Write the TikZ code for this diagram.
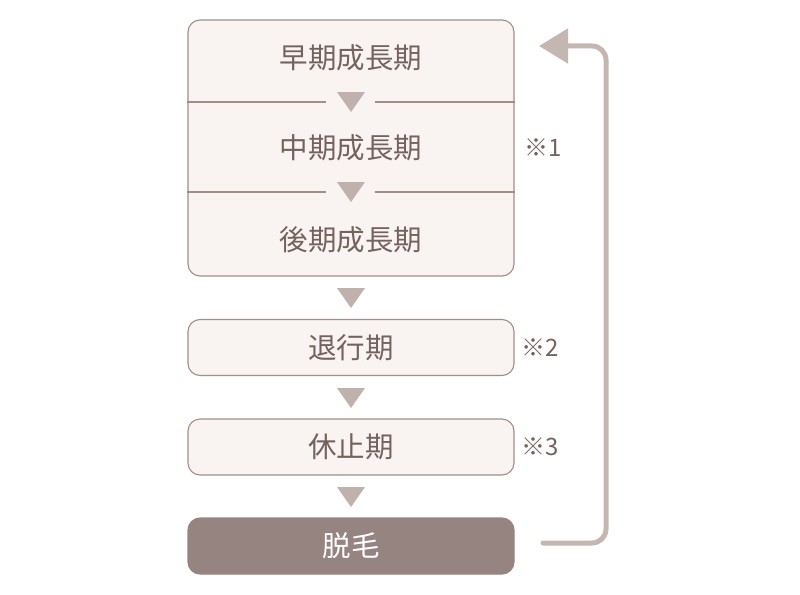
\documentclass[tikz,border=0pt]{standalone}
\usepackage{fontspec}
\newfontfamily\jp{Noto Sans CJK JP}
\usetikzlibrary{arrows.meta}
\definecolor{boxfill}{HTML}{F9F4F2}
\definecolor{boxline}{HTML}{A08E89}
\definecolor{txtc}{HTML}{75625D}
\definecolor{tric}{HTML}{C0B1AC}
\definecolor{retc}{HTML}{C4B6B1}
\definecolor{darkc}{HTML}{968480}
\begin{document}
\begin{tikzpicture}[x=1pt,y=-1pt,
  stage/.style={draw=boxline, fill=boxfill, line width=1.1pt, rounded corners=12pt,
    minimum width=326pt, minimum height=56pt, inner sep=0pt,
    font=\jp\fontsize{28.5}{28.5}\selectfont, text=txtc},
  phase/.style={inner sep=0pt, font=\jp\fontsize{28.5}{28.5}\selectfont, text=txtc},
  notestyle/.style={inner sep=0pt, anchor=west, font=\jp\fontsize{24}{24}\selectfont, text=txtc},
  divider/.style={draw=boxline, line width=1.1pt},
  tridown/.pic={\fill[tric] (-14,-10) -- (14,-10) -- (0,10) -- cycle;}
]
\useasboundingbox (0,0) rectangle (800,594);

% growth box
\node[stage, minimum height=256pt] (grow) at (351,148) {};
\node[phase] (early) at (351,58) {早期成長期};
\node[phase] (mid) at (351,148) {中期成長期};
\node[phase] (late) at (351,240) {後期成長期};

\coordinate (t1) at (351,102);
\coordinate (t2) at (351,192);
\draw[divider] (grow.west |- t1) -- ++(139,0);
\draw[divider] (t1) ++(24,0) -- (grow.east |- t1);
\draw[divider] (grow.west |- t2) -- ++(139,0);
\draw[divider] (t2) ++(24,0) -- (grow.east |- t2);
\pic at (t1) {tridown};
\pic at (t2) {tridown};

% other stages
\node[stage] (regress) at (351,347.5) {退行期};
\node[stage] (rest) at (351,447) {休止期};
\node[stage, fill=darkc, draw=darkc, text=white] (shed) at (351,546) {脱毛};

\pic at (351,298) {tridown};
\pic at (351,398) {tridown};
\pic at (351,497) {tridown};

% notes
\node[notestyle] (n1) at (524,148) {※1};
\node[notestyle] (n2) at (521,348) {※2};
\node[notestyle] (n3) at (521,447) {※3};

% return arrow
\coordinate (rs) at (543,543);
\coordinate (re) at (539,46);
\draw[retc, line width=5pt, line cap=round, rounded corners=14pt,
  -{Triangle[length=29pt,width=34pt,line cap=butt]}]
  (rs) -- (606,543) -- (606,46) -- (re);
\end{tikzpicture}
\end{document}
